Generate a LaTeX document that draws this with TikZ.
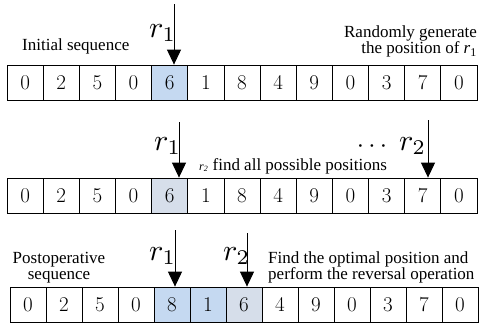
\documentclass[tikz,border=0pt]{standalone}
\usepackage{graphicx}
\usepackage{fontspec}
\newfontfamily\tnr{Liberation Serif}
\usetikzlibrary{arrows.meta}
\definecolor{hlA}{RGB}{197,217,241}
\definecolor{hlB}{RGB}{214,222,234}
\newcommand{\bigmath}[1]{\scalebox{3}{$#1$}}
\begin{document}
\begin{tikzpicture}[x=1pt,y=-1pt,
  cell/.style={draw, line width=0.8pt, minimum height=35pt, inner sep=0pt, font=\fontsize{21}{21}\selectfont},
  arr/.style={line width=1pt, -{Triangle[width=14pt,length=15pt]}},
  lab/.style={font=\tnr\fontsize{17}{16}\selectfont, inner sep=0pt},
  rlab/.style={inner sep=0pt}]
\useasboundingbox (0,0) rectangle (479,322);
% row 1
\foreach \v/\c [count=\i] in {0/white,2/white,5/white,0/white,6/hlA,1/white,8/white,4/white,9/white,0/white,3/white,7/white,0/white}
  \node[cell, fill=\c, minimum width=36.154pt] (a\i) at ({7+(\i-0.5)*36.154}, 82.5) {\v};
% row 2
\foreach \v/\c [count=\i] in {0/white,2/white,5/white,0/white,6/hlB,1/white,8/white,4/white,9/white,0/white,3/white,7/white,0/white}
  \node[cell, fill=\c, minimum width=36.154pt] (b\i) at ({7+(\i-0.5)*36.154}, 195.5) {\v};
% row 3
\foreach \v/\c [count=\i] in {0/white,2/white,5/white,0/white,8/hlA,1/hlA,6/hlB,4/white,9/white,0/white,3/white,7/white,0/white}
  \node[cell, fill=\c, minimum width=36pt] (c\i) at ({10+(\i-0.5)*36}, 304.5) {\v};
% labels r
\node[rlab, anchor=base west] (r1a) at (149,37) {\bigmath{r_1}};
\node[rlab, anchor=base west] (r1b) at (154,150) {\bigmath{r_1}};
\node[rlab, anchor=base west] (r2b) at (399,150) {\bigmath{r_2}};
\node[rlab, anchor=base west] (r1c) at (149,260) {\bigmath{r_1}};
\node[rlab, anchor=base west] (r2c) at (223,260) {\bigmath{r_2}};
\node[inner sep=0pt, anchor=base] (dots) at (372,152) {\scalebox{2.6}{$\cdots$}};
% arrows
\coordinate (t1) at (174,4);   \draw[arr] (t1) -- (t1 |- a5.north);
\coordinate (t2) at (179,122); \draw[arr] (t2) -- (t2 |- b5.north);
\coordinate (t3) at (428,120); \draw[arr] (t3) -- (t3 |- b12.north);
\coordinate (t4) at (175,230); \draw[arr] (t4) -- (t4 |- c5.north);
\coordinate (t5) at (247,233); \draw[arr] (t5) -- (t5 |- c7.north);
% texts
\node[lab, anchor=base west] (init) at (22,50) {Initial sequence};
\node[lab, align=right, anchor=north east] (rand) at (477,26) {Randomly generate\\the position of {\itshape r}\textsubscript{1}};
\node[lab, anchor=base west] (find) at (199,170) {{\fontsize{12}{12}\selectfont\itshape r\textsubscript{2}} find all possible positions};
\node[lab, align=center, anchor=north] (post) at (59,252) {Postoperative\\sequence};
\node[lab, align=left, anchor=north west] (opt) at (268,251) {Find the optimal position and\\perform the reversal operation};
\end{tikzpicture}
\end{document}
